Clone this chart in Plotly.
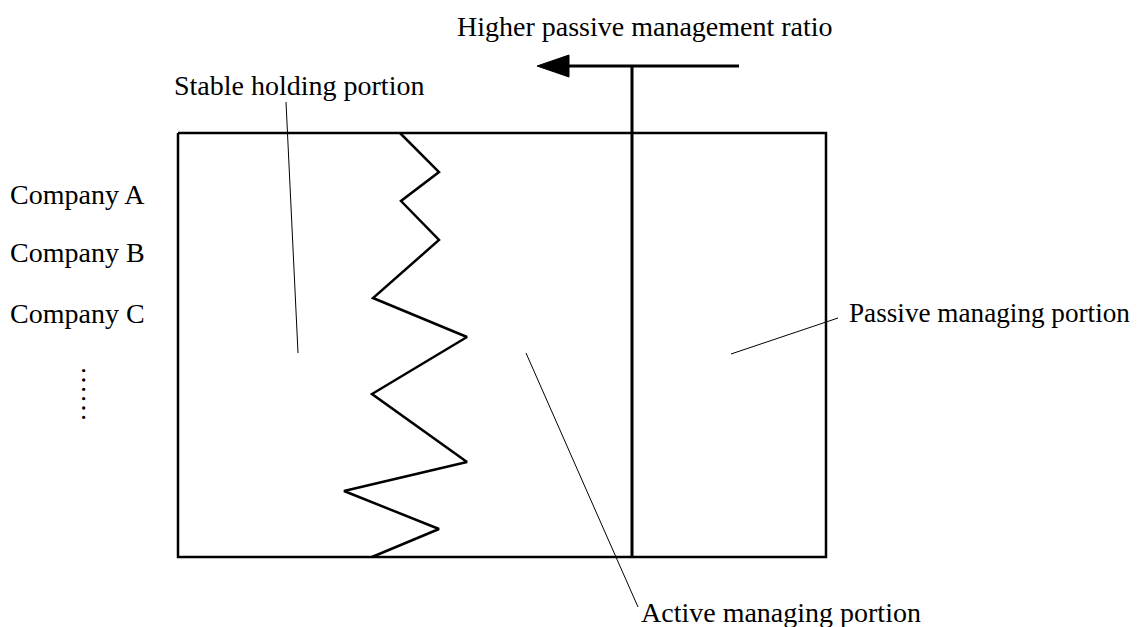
import plotly.graph_objects as go

# ---- diagram data (pixel-like coordinate system, y grows downward) ----
box_x = [178, 826, 826, 178, 178]
box_y = [133, 133, 557, 557, 133]

zigzag_x = [400, 439, 401, 439, 373, 467, 372, 467, 344, 439, 372]
zigzag_y = [133, 172, 201, 240, 298, 337, 394, 462, 491, 529, 557]

divider_x = [632, 632]
divider_y = [66, 557]

arrow_x = [560, 739]
arrow_y = [66, 66]
arrowhead_x = [537, 569, 569, 537]
arrowhead_y = [66, 55, 77, 66]

stable_leader_x = [286, 298]
stable_leader_y = [102, 353]
active_leader_x = [526, 638]
active_leader_y = [353, 607]
passive_leader_x = [731, 838]
passive_leader_y = [354, 318]

companies = ["Company A", "Company B", "Company C"]
company_y = [194, 252, 313]

label_texts = ["Higher passive management ratio", "Stable holding portion",
               "Passive managing portion", "Active managing portion"]
label_x = [456, 173, 848, 640]
label_y = [26, 85, 313, 612]

FONT = "Liberation Serif, Times New Roman, serif"
FS = 28
FS_RIGHT = 27.2  # right-edge label, keeps it inside the page
PAGE_OFFSET = 8  # default body margin of the html page

fig = go.Figure()

def line(x, y, w):
    fig.add_trace(go.Scatter(x=x, y=y, mode="lines",
                             line=dict(color="black", width=w),
                             hoverinfo="skip", showlegend=False))

line(box_x, box_y, 2.5)
line(zigzag_x, zigzag_y, 2.5)
line(divider_x, divider_y, 3)
line(arrow_x, arrow_y, 3)
fig.add_trace(go.Scatter(x=arrowhead_x, y=arrowhead_y, mode="lines", fill="toself",
                         fillcolor="black", line=dict(color="black", width=1),
                         hoverinfo="skip", showlegend=False))
line(stable_leader_x, stable_leader_y, 1)
line(active_leader_x, active_leader_y, 1)
line(passive_leader_x, passive_leader_y, 1)

for t, yy in zip(companies, company_y):
    fig.add_annotation(x=9, y=yy, text=t, showarrow=False, xanchor="left",
                       yanchor="middle", borderpad=0,
                       font=dict(family=FONT, size=FS, color="black"))

for t, xx, yy in zip(label_texts, label_x, label_y):
    size = FS_RIGHT if t.startswith("Passive") else FS
    fig.add_annotation(x=xx, y=yy, text=t, showarrow=False, xanchor="left",
                       yanchor="middle", borderpad=0,
                       font=dict(family=FONT, size=size, color="black"))

# vertical ellipsis (two ellipsis characters rotated)
fig.add_annotation(x=92, y=394, text="……", showarrow=False, textangle=90,
                   xanchor="center", yanchor="middle",
                   font=dict(family=FONT, size=FS, color="black"))

fig.update_xaxes(range=[PAGE_OFFSET, 1141], visible=False, showgrid=False, zeroline=False)
fig.update_yaxes(range=[627, PAGE_OFFSET], visible=False, showgrid=False, zeroline=False)
fig.update_layout(width=1141 - PAGE_OFFSET, height=627 - PAGE_OFFSET,
                  margin=dict(l=0, r=0, t=0, b=0),
                  plot_bgcolor="white", paper_bgcolor="white")

fig.write_html("out.html")
